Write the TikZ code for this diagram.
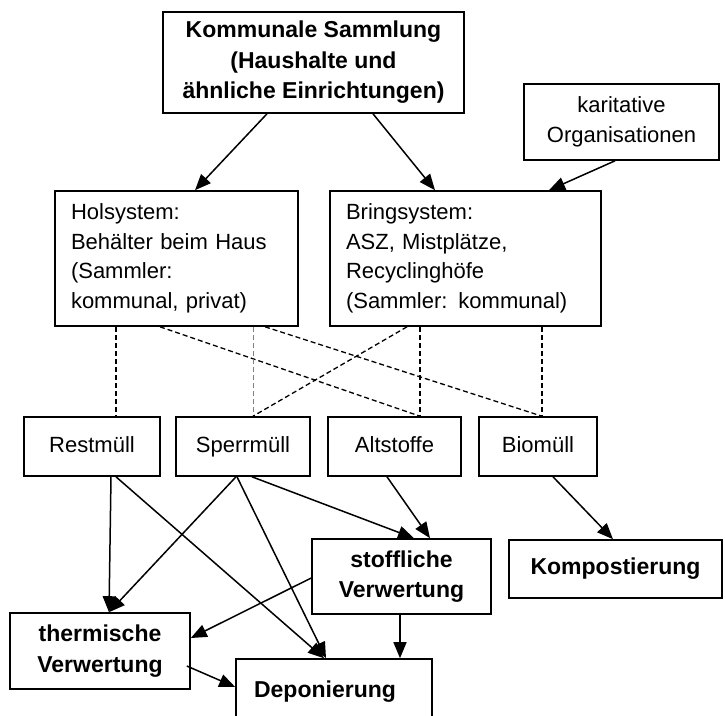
\documentclass[tikz,border=0pt]{standalone}
\usepackage{fontspec}
\setmainfont{Liberation Sans}
\usetikzlibrary{arrows.meta}
\begin{document}
\begin{tikzpicture}[x=1pt,y=-1pt,
  box/.style={draw, line width=1.6pt, inner sep=0pt, align=center,
    font=\fontsize{22}{29.5}\selectfont},
  rowbox/.style={box, minimum height=59pt, text height=16pt, text depth=5pt},
  lbox/.style={draw, line width=1.6pt, inner xsep=16pt, inner ysep=0pt, align=left,
    font=\fontsize{22}{29.5}\selectfont},
  bbox/.style={box, font=\fontsize{23}{30.5}\selectfont\bfseries},
  arr/.style={line width=1.5pt, -{Triangle[length=16pt,width=13pt]}},
  dsh/.style={line width=1.3pt, dash pattern=on 5pt off 3pt},
]
\useasboundingbox (0,0) rectangle (725,715);
\clip (0,0) rectangle (725,715);

% boxes
\node[bbox, minimum width=301pt, minimum height=101pt] (kom) at (313.5,62.5)
  {Kommunale Sammlung\\(Haushalte und\\ähnliche Einrichtungen)};
\node[box, minimum width=195pt, minimum height=76pt] (kar) at (621.5,122)
  {karitative\\Organisationen};
\node[lbox, text width=211pt, minimum height=135pt] (hol) at (176.5,258.5)
  {Holsystem:\\Behälter beim Haus\\(Sammler:\\kommunal, privat)};
\node[lbox, text width=239pt, minimum height=135pt] (bri) at (465.5,258.5)
  {Bringsystem:\\ASZ, Mistplätze,\\Recyclinghöfe\\(Sammler: kommunal)};

\node[rowbox, minimum width=136pt] (rest)  at (92,446.5)  {Restmüll};
\node[rowbox, minimum width=134pt] (sperr) at (243,446.5) {Sperrmüll};
\node[rowbox, minimum width=133pt] (alt)   at (394.5,446.5) {Altstoffe};
\node[rowbox, minimum width=118pt] (bio)   at (538,446.5) {Biomüll};

\node[bbox, minimum width=179pt, minimum height=75pt] (stoff) at (401.5,576.5)
  {stoffliche\\Verwertung};
\node[bbox, minimum width=213pt, minimum height=58pt] (komp) at (615.5,569)
  {Kompostierung};
\node[bbox, minimum width=180pt, minimum height=76pt] (therm) at (100,651)
  {thermische\\Verwertung};
\node[bbox, minimum width=196pt, minimum height=80pt] (dep) at (334,699) {};
\node[anchor=base, inner sep=0pt, font=\fontsize{23}{30.5}\selectfont\bfseries]
  (deplab) at (325,697) {Deponierung};

% top arrows
\draw[arr] ([xshift=-46.5pt]kom.south) -- ([xshift=18.5pt]hol.north);
\draw[arr] ([xshift=59.5pt]kom.south) -- ([xshift=-30.5pt]bri.north);
\draw[arr] ([xshift=-6.5pt]kar.south) -- ([xshift=83.5pt]bri.north);

% dashed links
\draw[dsh] ([xshift=-60.5pt]hol.south) -- ([xshift=24pt]rest.north);
\draw[dsh] ([xshift=-16.5pt]hol.south) -- ([xshift=25.5pt]alt.north);
\draw[dsh, line width=0.6pt, gray] ([xshift=76.5pt]hol.south) -- ([xshift=10pt]sperr.north);
\draw[dsh] ([xshift=88.5pt]hol.south) -- ([xshift=4pt]bio.north);
\draw[dsh] ([xshift=-58.5pt]bri.south) -- ([xshift=10pt]sperr.north);
\draw[dsh] ([xshift=-45.5pt]bri.south) -- ([xshift=25.5pt]alt.north);
\draw[dsh] ([xshift=76.5pt]bri.south) -- ([xshift=4pt]bio.north);

% lower arrows
\draw[arr] ([xshift=19pt]rest.south) -- ([xshift=9pt]therm.north);
\draw[arr] ([xshift=24pt]rest.south) -- ([xshift=-10pt]dep.north);
\draw[arr] ([xshift=-7pt]sperr.south) -- ([xshift=9pt]therm.north);
\draw[arr] ([xshift=-6pt]sperr.south) -- ([xshift=-8pt]dep.north);
\draw[arr] ([xshift=9pt]sperr.south) -- ([xshift=12.5pt]stoff.north);
\draw[arr] ([xshift=-7.5pt]alt.south) -- ([xshift=28.5pt]stoff.north);
\draw[arr] ([xshift=15pt]bio.south) -- ([xshift=-2.5pt]komp.north);
\draw[arr] ([yshift=-1.5pt]stoff.west) -- ([yshift=13pt]therm.east);
\draw[arr] ([xshift=-1.5pt]stoff.south) -- ([xshift=66pt]dep.north);
\draw[arr] ([xshift=-4pt,yshift=-15pt]therm.east) -- ([yshift=12pt]dep.west);
\end{tikzpicture}
\end{document}
